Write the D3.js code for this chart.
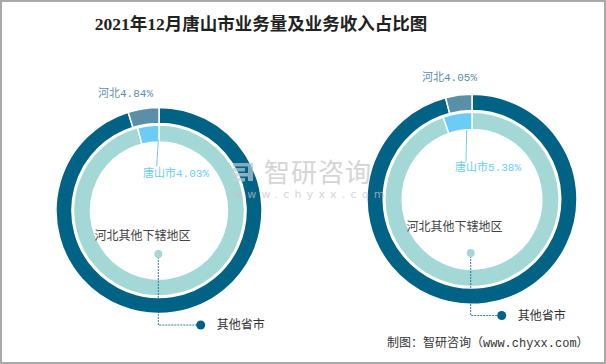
<!DOCTYPE html>
<html><head><meta charset="utf-8">
<script src="https://cdn.jsdelivr.net/npm/d3@7"></script>
<style>body{margin:0;background:#fff}svg{display:block}</style>
</head><body>
<svg id="c" width="606" height="364"></svg>
<script>
const title = "2021年12月唐山市业务量及业务收入占比图";
const charts = ["业务量", "业务收入"];
const outerCats = ["其他省市", "河北"];
const innerCats = ["河北其他下辖地区", "唐山市"];
const outerVals = [[95.16, 4.84], [95.95, 4.05]];
const innerVals = [[95.97, 4.03], [94.62, 5.38]];
const outerColors = ["#006385", "#5b8fa7"];
const innerColors = ["#a3d8d6", "#6bcdf5"];
const source = "制图：智研咨询（www.chyxx.com）";

// layout (per chart)
const layout = [
  {cx:159, cy:210.5, R:103, hb:[-6,-117.5], ts:[-16,-37.5], tsl:[[-0.7,-70.5],[-2.3,-44]], ot:[-16.5,25.5], dot1:[-0.7,43.5], corner:114.5, dot2:41.7},
  {cx:472, cy:199.3, R:105, hb:[5,-122], ts:[-17,-32.3], tsl:[[-5.3,-69.3],[-6,-38]], ot:[-17.5,27.7], dot1:[-1.3,53.7], corner:116.2, dot2:29.7}
];

const svg = d3.select("#c");
svg.append("rect").attr("x",1).attr("y",1).attr("width",604).attr("height",362)
  .attr("fill","#fff").attr("stroke","#a9a9a9").attr("stroke-width",2);

svg.append("text").attr("x",261).attr("y",30).attr("text-anchor","middle")
  .attr("font-family","'Liberation Serif','Noto Sans CJK SC',serif").attr("font-weight","bold")
  .attr("font-size",17.5).attr("fill","#222").text(title);

const pie = d3.pie().sort(null).value(d=>d);
const labFont = "'Liberation Mono','Noto Sans CJK SC',monospace";
const cjk = "'Noto Sans CJK SC',sans-serif";

charts.forEach((name,i)=>{
  const L = layout[i];
  const g = svg.append("g").attr("transform",`translate(${L.cx},${L.cy})`);
  const R = L.R;
  const outerArc = d3.arc().innerRadius(R*0.845).outerRadius(R);
  const innerArc = d3.arc().innerRadius(R*0.665).outerRadius(R*0.83);
  g.selectAll("path.o").data(pie(outerVals[i])).join("path").attr("class","o")
    .attr("d",outerArc).attr("fill",(d,j)=>outerColors[j]).attr("stroke","#fff").attr("stroke-width",1.5);
  g.selectAll("path.n").data(pie(innerVals[i])).join("path").attr("class","n")
    .attr("d",innerArc).attr("fill",(d,j)=>innerColors[j]).attr("stroke","#fff").attr("stroke-width",1.5);

  // 河北 label
  g.append("text").attr("x",L.hb[0]).attr("y",L.hb[1]).attr("dy","0.35em").attr("text-anchor","end")
    .attr("font-family",labFont).attr("font-size",11).attr("fill",outerColors[1])
    .text(outerCats[1]+outerVals[i][1].toFixed(2)+"%");
  // 唐山市 label + leader
  g.append("line").attr("x1",L.tsl[0][0]).attr("y1",L.tsl[0][1]).attr("x2",L.tsl[1][0]).attr("y2",L.tsl[1][1])
    .attr("stroke",innerColors[1]).attr("stroke-width",1);
  g.append("text").attr("x",L.ts[0]).attr("y",L.ts[1]).attr("dy","0.35em")
    .attr("font-family",labFont).attr("font-size",11).attr("fill",innerColors[1])
    .text(innerCats[1]+innerVals[i][1].toFixed(2)+"%");
  // 河北其他下辖地区
  g.append("text").attr("x",L.ot[0]).attr("y",L.ot[1]).attr("dy","0.35em").attr("text-anchor","middle")
    .attr("font-family",cjk).attr("font-size",12).attr("fill","#444").text(innerCats[0]);
  // dashed leader for 其他省市
  g.append("path").attr("d",`M${L.dot1[0]},${L.dot1[1]}V${L.corner}H${L.dot2}`)
    .attr("fill","none").attr("stroke",outerColors[0]).attr("stroke-width",1).attr("stroke-dasharray","2,1").attr("opacity",0.8);
  g.append("circle").attr("cx",L.dot1[0]).attr("cy",L.dot1[1]).attr("r",4).attr("fill",innerColors[0]);
  g.append("circle").attr("cx",L.dot2).attr("cy",L.corner).attr("r",4.5).attr("fill",outerColors[0]);
  g.append("text").attr("x",L.dot2+16).attr("y",L.corner).attr("dy","0.35em")
    .attr("font-family",cjk).attr("font-size",12).attr("fill","#333").text(outerCats[0]);
});

// watermark
const wm = svg.append("g").attr("opacity",0.7);
[0,1,2,3].forEach(k=>{
  wm.append("rect").attr("x",233).attr("y",163+k*5).attr("width",k%2?12:19).attr("height",3.5)
    .attr("fill",k<2?"#b9cad6":"#c5d3dc");
});
wm.append("rect").attr("x",248).attr("y",163).attr("width",5).attr("height",18).attr("fill","#b9cad6");
wm.append("text").attr("x",264).attr("y",173).attr("dy","0.35em").attr("font-family",cjk)
  .attr("font-size",26).attr("fill","#c4c4c4").attr("letter-spacing",1).text("智研咨询");
wm.append("text").attr("x",233).attr("y",194).attr("dy","0.35em").attr("font-family","'DejaVu Sans',sans-serif")
  .attr("font-size",11).attr("fill","#c4c4c4").attr("letter-spacing",5.2).text("www.chyxx.com");

svg.append("text").attr("x",387).attr("y",343).attr("dy","0.35em")
  .attr("font-family",labFont).attr("font-size",12).attr("fill","#333").text(source);
</script>
</body></html>
